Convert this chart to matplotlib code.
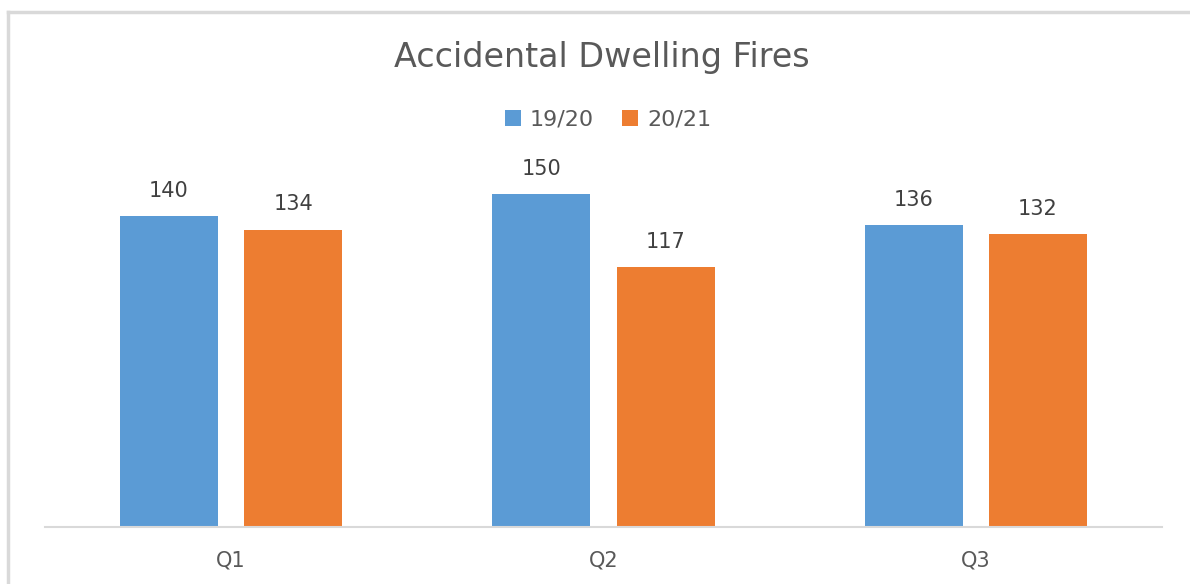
import numpy as np
import matplotlib.pyplot as plt
from matplotlib.lines import Line2D

# data
quarters = ['Q1', 'Q2', 'Q3']
fy_1920 = [140, 150, 136]
fy_2021 = [134, 117, 132]
series_names = ['19/20', '20/21']

BLUE = '#5b9bd5'
ORANGE = '#ed7d31'
TEXT = '#595959'

plt.rcParams['font.family'] = ['DejaVu Sans']

fig = plt.figure(figsize=(11.9, 5.84), dpi=100)
W, H = 1190, 584
ax = fig.add_axes([45 / W, 57 / H, 1117 / W, 355 / H])

x = np.arange(len(quarters))
width = 0.263
off = 0.167
b1 = ax.bar(x - off, fy_1920, width, color=BLUE, label=series_names[0])
b2 = ax.bar(x + off, fy_2021, width, color=ORANGE, label=series_names[1])

# value labels above bars
for bars in (b1, b2):
    for bar in bars:
        h = bar.get_height()
        ax.annotate(f'{h:.0f}', xy=(bar.get_x() + bar.get_width() / 2, h),
                    xytext=(0, 11), textcoords='offset points',
                    ha='center', va='bottom', fontsize=15, color='#404040')

ax.set_xlim(-0.5, 2.5)
ax.set_ylim(0, 160)
ax.set_xticks(x)
ax.set_xticklabels(quarters, fontsize=15, color=TEXT)
ax.tick_params(axis='x', length=0, pad=17)
ax.set_yticks([])
for s in ['top', 'right', 'left']:
    ax.spines[s].set_visible(False)
ax.spines['bottom'].set_color('#d9d9d9')
ax.spines['bottom'].set_linewidth(1.5)

fig.text(602 / W, 1 - 58 / H, 'Accidental Dwelling Fires', ha='center',
         va='center', fontsize=24, color=TEXT)

fig.legend(loc='center', bbox_to_anchor=(608 / W, 1 - 120 / H), ncol=2,
           frameon=False, fontsize=16, labelcolor=TEXT, handlelength=0.7,
           handleheight=0.7, handletextpad=0.4, columnspacing=1.3)

# chart area border (only left/top visible in the crop)
fig.add_artist(Line2D([8 / W, 8 / W], [0, 1 - 12 / H], color='#d9d9d9', lw=2.5))
fig.add_artist(Line2D([8 / W, 1], [1 - 12 / H, 1 - 12 / H], color='#d9d9d9', lw=2.5))

fig.savefig('out.png', dpi=100)
